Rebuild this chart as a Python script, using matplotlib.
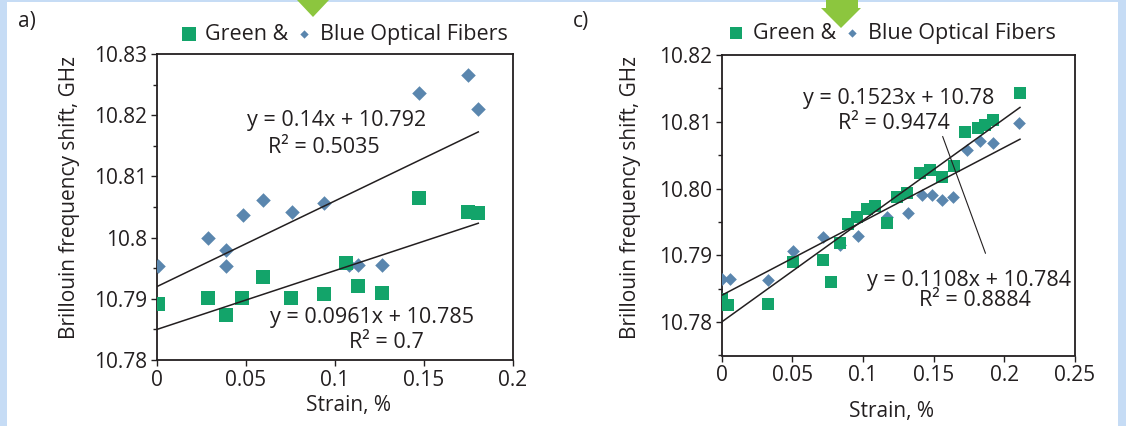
import matplotlib.pyplot as plt
import numpy as np
from matplotlib.patches import Rectangle, Polygon
from matplotlib.ticker import MultipleLocator, FuncFormatter

# panel a) - strain (%) vs Brillouin frequency shift (GHz)
a_green_strain = [0.0007, 0.0285, 0.0388, 0.0476, 0.0594, 0.0753, 0.094, 0.1062,
                  0.1131, 0.1262, 0.1474, 0.1746, 0.1802]
a_green_bfs = [10.7892, 10.7901, 10.7874, 10.7902, 10.7935, 10.7902, 10.7908, 10.7958,
               10.7921, 10.7910, 10.8064, 10.8042, 10.8040]
a_blue_strain = [0.0007, 0.0288, 0.0388, 0.0388, 0.0481, 0.0594, 0.0757, 0.094,
                 0.1080, 0.1131, 0.1262, 0.1474, 0.1749, 0.1805]
a_blue_bfs = [10.7954, 10.7999, 10.7979, 10.7954, 10.8037, 10.8061, 10.8042, 10.8056,
              10.7956, 10.7956, 10.7956, 10.8237, 10.8266, 10.8210]
a_fit_blue = (0.14, 10.792, 0.5035)
a_fit_green = (0.0961, 10.785, 0.7)

# panel c)
c_green_strain = [0.0, 0.0048, 0.0331, 0.0508, 0.0716, 0.0772, 0.0838, 0.0897, 0.0956,
                  0.1027, 0.1086, 0.1168, 0.1239, 0.131, 0.1404, 0.1475, 0.1557, 0.1644,
                  0.1722, 0.1816, 0.1864, 0.1922, 0.2111]
c_green_bfs = [10.7834, 10.7825, 10.7827, 10.7890, 10.7893, 10.7860, 10.7919, 10.7947,
               10.7958, 10.7969, 10.7974, 10.7948, 10.7988, 10.7993, 10.8023, 10.8028,
               10.8018, 10.8034, 10.8085, 10.8090, 10.8095, 10.8103, 10.8143]
c_blue_strain = [0.0001, 0.006, 0.0331, 0.0508, 0.072, 0.0838, 0.0968, 0.105, 0.1168,
                 0.1321, 0.1416, 0.1487, 0.1557, 0.1639, 0.1734, 0.1828, 0.1918, 0.2106]
c_blue_bfs = [10.7865, 10.7864, 10.7863, 10.7907, 10.7928, 10.7915, 10.7929, 10.7970,
              10.7958, 10.7963, 10.7990, 10.7990, 10.7983, 10.7987, 10.8058, 10.8071,
              10.8068, 10.8098]
c_fit_green = (0.1523, 10.78, 0.9474)
c_fit_blue = (0.1108, 10.784, 0.8884)

GREEN = '#13a46a'
BLUE = '#5a86ae'
INK = '#231f20'

plt.rcParams['font.family'] = ['Open Sans', 'DejaVu Sans']
plt.rcParams['text.color'] = INK
plt.rcParams['axes.labelcolor'] = INK
plt.rcParams['xtick.color'] = INK
plt.rcParams['ytick.color'] = INK

W, H = 1126, 426
fig = plt.figure(figsize=(W / 100, H / 100), dpi=100, facecolor='#c6dcf5')
fig.patches.append(Rectangle((7 / W, 0), 1111 / W, 424 / H, transform=fig.transFigure,
                             facecolor='white', edgecolor='none', zorder=-1))


def px(x, y):
    return (x / W, 1 - y / H)


# green pointer arrows at the top edge
for pts in ([(297, 0), (329, 0), (313, 17)],
            [(826, 0), (858, 0), (858, 8), (861, 8), (841, 28), (821, 8), (826, 8)]):
    fig.patches.append(Polygon([px(*p) for p in pts], closed=True, transform=fig.transFigure,
                               facecolor='#8cc63e', edgecolor='none'))


def fit_line(ax, fit, x_end):
    xs = np.array([0.0, x_end])
    ax.plot(xs, fit[0] * xs + fit[1], color=INK, lw=1.1, zorder=4)


def style(ax, ylim, xmax, yfmt):
    ax.set_xlim(0, xmax)
    ax.set_ylim(*ylim)
    ax.xaxis.set_major_locator(MultipleLocator(0.05))
    ax.yaxis.set_major_locator(MultipleLocator(0.01))
    ax.yaxis.set_minor_locator(MultipleLocator(0.005))
    ax.xaxis.set_major_formatter(FuncFormatter(lambda v, p: '%g' % round(v, 3)))
    ax.yaxis.set_major_formatter(FuncFormatter(yfmt))
    ax.tick_params(axis='both', which='major', direction='out', length=4, width=1,
                   labelsize=15, pad=3)
    ax.tick_params(axis='y', which='minor', direction='out', length=3, width=1)
    for s in ax.spines.values():
        s.set_linewidth(1.3)
        s.set_color(INK)
    ax.set_xlabel('Strain, %', fontsize=15)
    ax.set_ylabel('Brillouin frequency shift, GHz', fontsize=15)


# ---- panel a)
ax1 = fig.add_axes([157 / W, 1 - 360 / H, 356 / W, 306 / H])
hb = ax1.scatter(a_blue_strain, a_blue_bfs, marker='D', s=55, color=BLUE, lw=0, zorder=3)
hg = ax1.scatter(a_green_strain, a_green_bfs, marker='s', s=110, color=GREEN, lw=0, zorder=3)
x_end = max(a_green_strain + a_blue_strain)
fit_line(ax1, a_fit_blue, x_end)
fit_line(ax1, a_fit_green, x_end)
style(ax1, (10.78, 10.83), 0.2, lambda v, p: '%g' % round(v, 3))
ax1.text(0.1011, 10.8192, 'y = %gx + %g' % a_fit_blue[:2], fontsize=15.5, ha='center', va='center')
ax1.text(0.0938, 10.8148, 'R² = %g' % a_fit_blue[2], fontsize=15.5, ha='center', va='center')
ax1.text(0.1208, 10.7869, 'y = %gx + %g' % a_fit_green[:2], fontsize=15.5, ha='center', va='center')
ax1.text(0.1287, 10.7828, 'R² = %g' % a_fit_green[2], fontsize=15.5, ha='center', va='center')
ax1.xaxis.set_label_coords(0.537, -0.114)
ax1.yaxis.set_label_coords(-0.216, 0.53)
leg = ax1.legend([hg, hb], ['Green &', 'Blue Optical Fibers'], ncol=2, frameon=False,
                 fontsize=15.5, loc='center left', bbox_to_anchor=(0.065, 1.065),
                 borderpad=0, borderaxespad=0, handlelength=0.8, handletextpad=0.35,
                 columnspacing=0.35)
leg.legend_handles[0].set_sizes([90])
leg.legend_handles[1].set_sizes([18])
fig.text(27 / W, 1 - 21 / H, 'a)', fontsize=15, ha='center', va='center')

# ---- panel c)
ax2 = fig.add_axes([721.5 / W, 1 - 355.5 / H, 353.5 / W, 300.5 / H])
hb = ax2.scatter(c_blue_strain, c_blue_bfs, marker='D', s=42, color=BLUE, lw=0, zorder=3)
hg = ax2.scatter(c_green_strain, c_green_bfs, marker='s', s=85, color=GREEN, lw=0, zorder=3)
x_end = max(c_green_strain + c_blue_strain)
fit_line(ax2, c_fit_green, x_end)
fit_line(ax2, c_fit_blue, x_end)
style(ax2, (10.775, 10.82), 0.25, lambda v, p: '%.2f' % v)
ax2.text(0.125, 10.8135, 'y = %gx + %g' % c_fit_green[:2], fontsize=15.5, ha='center', va='center')
ax2.text(0.122, 10.8098, 'R² = %g' % c_fit_green[2], fontsize=15.5, ha='center', va='center')
ax2.text(0.175, 10.7863, 'y = %gx + %g' % c_fit_blue[:2], fontsize=15.5, ha='center', va='center')
ax2.text(0.1789, 10.7833, 'R² = %g' % c_fit_blue[2], fontsize=15.5, ha='center', va='center')
ax2.annotate('', xy=(0.1564, 10.8078), xytext=(0.1867, 10.7903),
             arrowprops=dict(arrowstyle='-', color=INK, lw=0.8, shrinkA=0, shrinkB=0))
ax2.xaxis.set_label_coords(0.48, -0.151)
ax2.yaxis.set_label_coords(-0.228, 0.527)
leg = ax2.legend([hg, hb], ['Green &', 'Blue Optical Fibers'], ncol=2, frameon=False,
                 fontsize=15.5, loc='center left', bbox_to_anchor=(0.018, 1.073),
                 borderpad=0, borderaxespad=0, handlelength=0.8, handletextpad=0.35,
                 columnspacing=0.35)
leg.legend_handles[0].set_sizes([80])
leg.legend_handles[1].set_sizes([18])
fig.text(581 / W, 1 - 21 / H, 'c)', fontsize=15, ha='center', va='center')

fig.savefig('out.png', dpi=100, facecolor=fig.get_facecolor())
